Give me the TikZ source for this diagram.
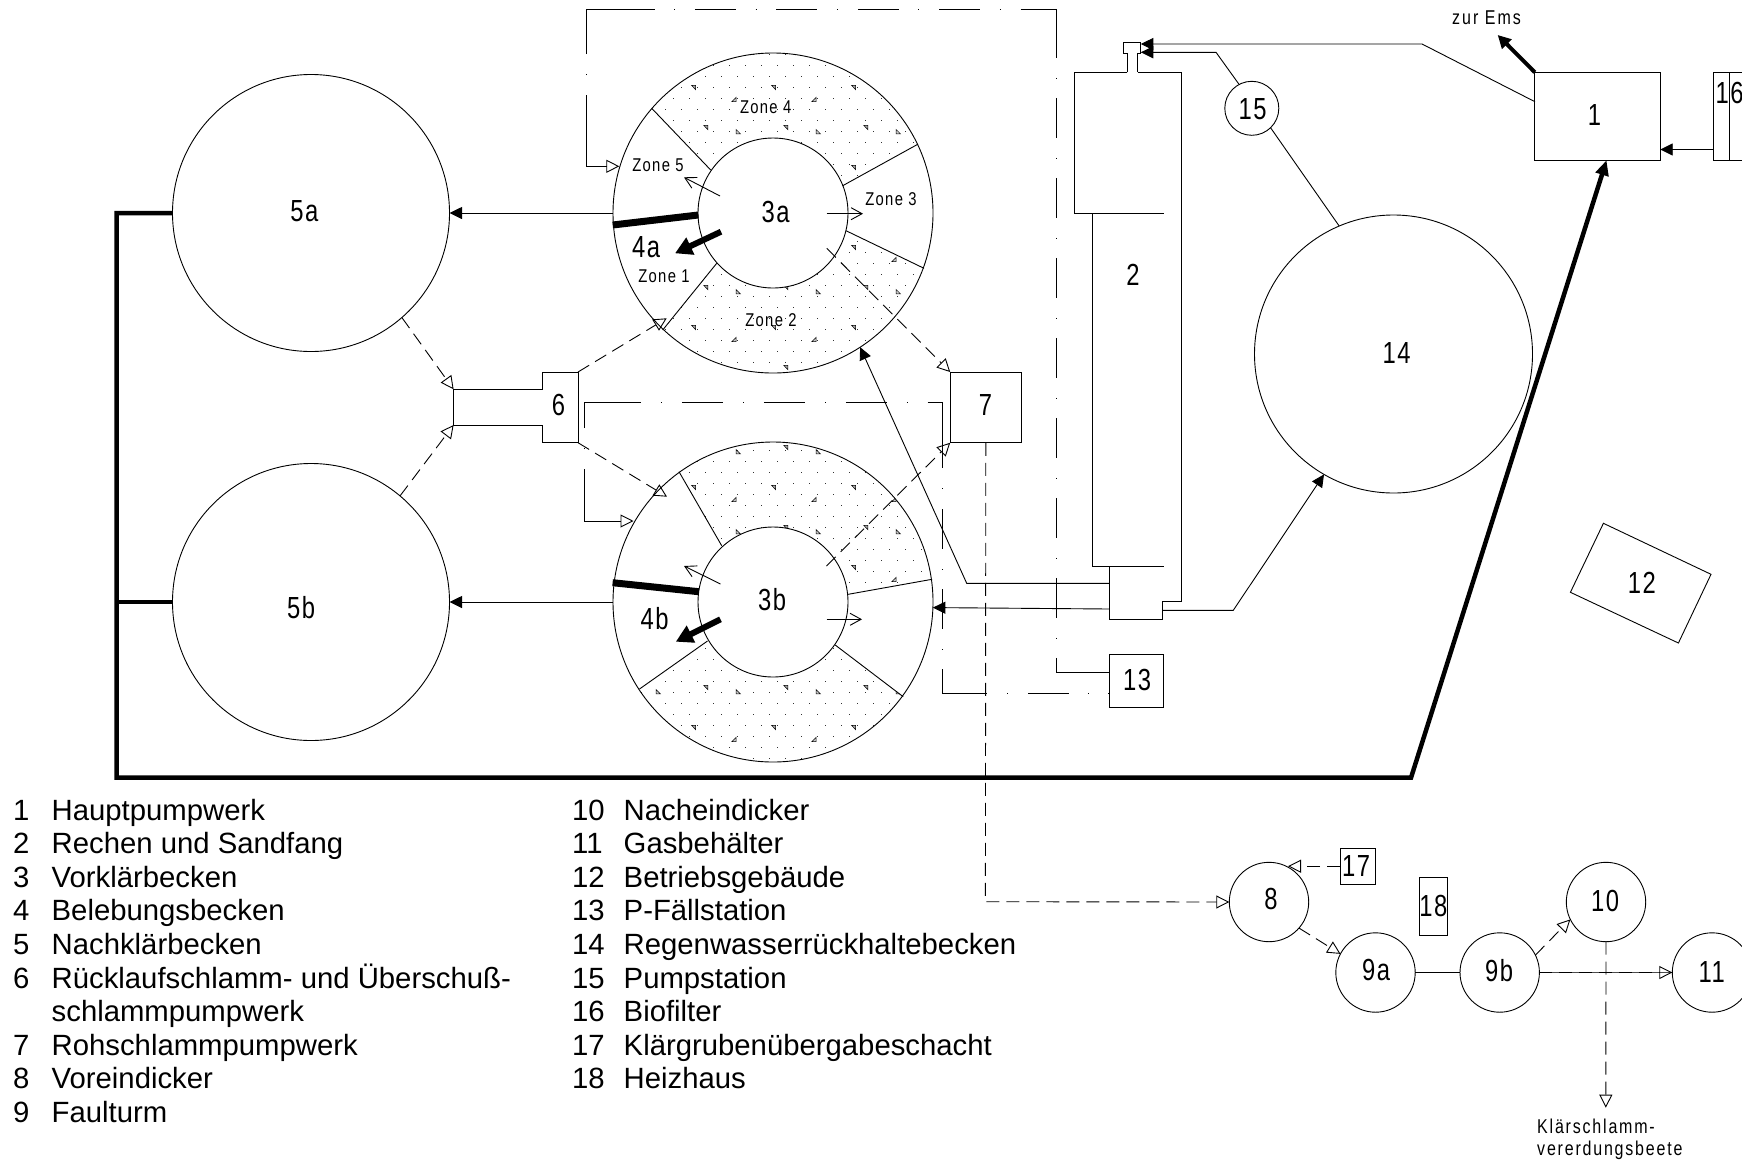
\documentclass[tikz,border=0pt]{standalone}
\usepackage{fontspec}
\setmainfont{Liberation Sans}
\newfontfamily\nar[FakeStretch=0.8,LetterSpace=7]{Liberation Sans}
\newfontfamily\narb[FakeStretch=0.78,LetterSpace=5]{Liberation Sans}
\newfontfamily\narw[FakeStretch=0.8,LetterSpace=10]{Liberation Sans}
\newfontfamily\narx[FakeStretch=0.8,LetterSpace=9]{Liberation Sans}
\usetikzlibrary{arrows.meta,shapes.geometric}
\tikzset{
  ln/.style={line width=.9pt,line join=miter},
  tank/.style={ln,circle,draw,inner sep=0pt,outer sep=0pt,minimum size=#1},
  box/.style={ln,rectangle,draw,inner sep=0pt,outer sep=0pt},
  big/.style={inner sep=0pt,font=\narb\fontsize{30.5}{32}\selectfont},
  zone/.style={inner sep=0pt,font=\nar\fontsize{18.5}{20}\selectfont},
  small/.style={inner sep=0pt,anchor=base west,font=\narw\fontsize{20}{22}\selectfont},
  smaller/.style={inner sep=0pt,anchor=base west,font=\narx\fontsize{20}{22}\selectfont},
  leg/.style={inner sep=0pt,anchor=base west,font=\fontsize{29.3}{33}\selectfont},
  solid arrow/.style={ln,-{Triangle[length=12.5pt,width=12pt]}},
  open arrow/.style={ln,-{Triangle[open,length=13pt,width=13pt]}},
  barb arrow/.style={ln,-{Straight Barb[length=11pt,width=12pt]}},
  dsh/.style={dash pattern=on 13pt off 7pt},
  wall/.style={line width=7pt},
  fat arrow/.style={line width=6pt,-{Triangle[length=17pt,width=18pt]}},
  thick pipe/.style={line width=4.5pt,line join=miter},
}
\newcommand{\tridown}[2]{\draw[line width=.5pt,fill=gray!70] (#1-2,#2-2.2) -- (#1+2.2,#2-2.2) -- (#1+2.2,#2+2.2) -- cycle;}
\newcommand{\triup}[2]{\draw[line width=.5pt,fill=gray!40] (#1-2.2,#2+2.2) -- (#1+2.2,#2+2.2) -- (#1+2.2,#2-2.2) -- cycle;}
\newcommand{\triright}[2]{\draw[line width=.5pt,fill=gray!40] (#1-2.2,#2-2.2) -- (#1-2.2,#2+2.2) -- (#1+2.2,#2+2.2) -- cycle;}
\begin{document}
\begin{tikzpicture}[x=1pt,y=-1pt]
\useasboundingbox (0,0) rectangle (1742,1160);
% stipple in the shaded zones
\begin{scope}
  \clip (773,213) circle[radius=160] (773,602) circle[radius=160];
  \clip (710.7,170) -- (628,83.6) -- (640,30) -- (900,30) -- (992,103) -- (842.7,185.7) -- cycle
        (846,230.7) -- (1000,305) -- (950,420) -- (600,420) -- (609,396) -- (716.7,263.3) -- cycle
        (721.7,545.7) -- (640,404) -- (660,380) -- (1000,380) -- (1010,565) -- (848.2,594.3) -- cycle
        (835.2,645) -- (970,747) -- (950,800) -- (600,800) -- (570,738) -- (707.5,641) -- cycle;
  \foreach \j in {-2,...,64} {
    \foreach \i in {0,...,20} {
      \pgfmathsetmacro{\dx}{600.7+16*\i+8*mod(\j+2,2)}
      \pgfmathsetmacro{\dy}{65+11*\j}
      \fill[black!80] (\dx,\dy) rectangle ++(1,1);
    }
  }
  \foreach \k in {-1,...,17} {
    \foreach \m in {-1,...,3} {
      \pgfmathsetmacro{\tx}{693.5+80*\m+12.2*mod(\k+2,2)}
      \pgfmathsetmacro{\ty}{87.5+40*\k}
      \tridown{\tx}{\ty}
    }
  }
  \foreach \k in {-1,...,8} {
    \foreach \m in {-1,...,3} {
      \pgfmathsetmacro{\ux}{734+80*\m}
      \pgfmathsetmacro{\uy}{99.5+80*\k}
      \triup{\ux}{\uy}
      \pgfmathsetmacro{\rx}{738.3+80*\m}
      \pgfmathsetmacro{\ry}{131.7+80*\k}
      \triright{\rx}{\ry}
    }
  }
\end{scope}
% tanks
\node[tank=277pt] (c5a) at (311,213) {};
\node[tank=277pt] (c5b) at (311,602) {};
\node[tank=320pt] (c3a) at (773,213) {};
\node[tank=320pt] (c3b) at (773,602) {};
\node[tank=150pt,fill=white] (i3a) at (773,213) {};
\node[tank=150pt,fill=white] (i3b) at (773,602) {};
\node[tank=278pt] (c14) at (1393.5,354) {};
\node[tank=54pt] (c15) at (1251.8,108.3) {};
\node[tank=79.4pt] (c8) at (1269,902) {};
\node[tank=79.4pt] (c9a) at (1375.5,972.5) {};
\node[tank=79.4pt] (c9b) at (1499.7,972.5) {};
\node[tank=79.4pt] (c10) at (1606,902) {};
\node[tank=79.4pt] (c11) at (1712,972.5) {};
% boxes
\node[box,minimum width=125.3pt,minimum height=88pt] (b1) at (1597.5,116.3) {};
\node[box,minimum width=71.2pt,minimum height=70.7pt] (b7) at (985.8,407.4) {};
\node[box,minimum width=53.6pt,minimum height=53.4pt] (b13) at (1136.4,681) {};
\node[box,minimum width=35.6pt,minimum height=35.7pt] (b17) at (1357.8,866.2) {};
\node[box,minimum width=28.3pt,minimum height=58pt] (b18) at (1433.6,906.3) {};
\draw[ln] (1742,72.3) -- (1713,72.3) -- (1713,160.3) -- (1742,160.3);
\draw[ln] (1729.6,72.3) -- (1729.6,160.3);
\coordinate (b16w) at (1713,149.5);
\coordinate (b1e) at (1660.2,149.5);
% box 6 with its tube
\coordinate (b6ne) at (578,372);
\coordinate (b6se) at (578,442.7);
\coordinate (tubet) at (453.6,389.3);
\coordinate (tubeb) at (453.6,425);
\draw[ln] (542.6,389.3) -- (542.6,372) -- (b6ne) -- (b6se) -- (542.6,442.7) -- (542.6,425) -- (tubeb) -- (tubet) -- cycle;
% box 12
\draw[ln] (1603.4,523.3) -- (1711,574.3) -- (1678.4,643) -- (1570.4,592.3) -- cycle;
% item 2
\coordinate (in2) at (1140.8,44);
\coordinate (in2b) at (1140.8,52.3);
\coordinate (b2l) at (1109.6,583.3);
\coordinate (b2m) at (1109.6,609);
\coordinate (b2r) at (1162.8,610.3);
\draw[ln] (1127.3,72.3) -- (1127.3,53.3) -- (1123.3,53.3) -- (1123.3,42.7) -- (1140.8,42.7) -- (1140.8,53.3) -- (1137.6,53.3) -- (1137.6,72.3);
\draw[ln] (1127.3,72.3) -- (1074.5,72.3) -- (1074.5,213.3) -- (1164,213.3);
\draw[ln] (1137.6,72.3) -- (1181,72.3) -- (1181,601.7) -- (1162.8,601.7) -- (1162.8,619.3) -- (1109.6,619.3) -- (1109.6,566.3);
\draw[ln] (1092.4,213.3) -- (1092.4,566.3);
\draw[ln] (1092.4,566.3) -- (1164,566.3);
% spokes
\draw[ln] (651.7,108.3) -- (710.7,170);
\draw[ln] (917.7,144.3) -- (842.7,185.7);
\draw[ln] (924,268.3) -- (846,230.7);
\draw[ln] (662.7,330) -- (716.7,263.3);
\draw[ln] (679,471.7) -- (721.7,545.7);
\draw[ln] (932,579.3) -- (848.2,594.3);
\draw[ln] (835.2,645) -- (903.2,696.7);
\draw[ln] (707.5,641) -- (639.5,689);
\draw[wall] (612.7,225) -- (698.3,215);
\draw[wall] (612.6,582.7) -- (698.8,591.7);
% inner arrows
\coordinate (a1) at (720,196); \coordinate (a1e) at (684,177.3);
\coordinate (a2) at (826.7,213.7); \coordinate (a2e) at (863,213.7);
\coordinate (a3) at (721,231.7); \coordinate (a3e) at (675,253.3);
\coordinate (a4) at (720.5,584); \coordinate (a4e) at (684,566);
\coordinate (a5) at (826.5,619.3); \coordinate (a5e) at (862,619.3);
\coordinate (a6) at (720.5,619.3); \coordinate (a6e) at (675.8,641.7);
\draw[barb arrow] (a1) -- (a1e);
\draw[barb arrow] (a2) -- (a2e);
\draw[barb arrow] (a4) -- (a4e);
\draw[barb arrow] (a5) -- (a5e);
\draw[fat arrow] (a3) -- (a3e);
\draw[fat arrow] (a6) -- (a6e);
% solid connectors
\draw[solid arrow] (c3a.180) -- (c5a.0);
\draw[solid arrow] (c3b.180) -- (c5b.0);
\draw[solid arrow] (b2l) -- (966.7,583.3) -- (c3a.-57);
\draw[solid arrow] (b2m) -- (c3b.-2.2);
\draw[solid arrow] (b2r) -- (1233.3,610.3) -- (c14.240);
\draw[ln] (c14.113) -- (c15.-46.8);
\draw[solid arrow] (c15.118) -- (1216,52.3) -- (in2b);
\draw[solid arrow] (1534.9,101.7) -- (1422,44) -- (in2);
\draw[solid arrow] (b16w) -- (b1e);
\draw[ln] (c9a.0) -- (c9b.180);
% thick pipes
\coordinate (emstip) at (1497.7,35);
\draw[line width=4pt,-{Triangle[length=13pt,width=13pt]}] (b1.north west) -- (emstip);
\draw[thick pipe] (c5b.180) -- (116.7,602);
\draw[thick pipe,-{Triangle[length=15pt,width=13pt]}] (c5a.180) -- (116.7,213) -- (116.7,777.7) -- (1411,777.7) -- (1606.5,160.3);
% dashed connectors
\draw[open arrow,dsh] (c5a.-49.5) -- (tubet);
\draw[open arrow,dsh] (c5b.50) -- (tubeb);
\draw[open arrow,dsh] (b6ne) -- (666.7,318.3);
\draw[open arrow,dsh] (b6se) -- (667,496.7);
\draw[open arrow,dsh] (826.7,248.3) -- (b7.north west);
\draw[open arrow,dsh] (826.5,566) -- (b7.south west);
\draw[open arrow,dsh] (b7.south) -- (985.4,901.7) -- (c8.180);
\draw[open arrow,dsh] (b17.west) -- (1288,866.2);
\draw[open arrow,dsh] (c8.-41.5) -- (c9a.152.2);
\draw[open arrow,dsh] (c9b.26.6) -- (c10.206);
\draw[line width=.5pt,black!70] (c9b.0) -- (c11.180);
\draw[open arrow,dsh] (c9b.0) -- (c11.180);
\coordinate (beete) at (1605.8,1107.7);
\draw[open arrow,dsh] (c10.-90) -- (beete);
% dash-dotted connectors
\draw[ln,{Triangle[open,length=13pt,width=13pt]}-,dash pattern=on 91pt off 20pt on 1pt off 20pt on 113pt off 19.7pt on 1pt off 19.7pt on 41pt off 19.7pt on 1pt off 19.7pt on 41pt off 19.7pt on 1pt off 19.7pt on 41pt off 19.7pt on 1pt off 19.7pt on 41pt off 19.7pt on 1pt off 19.7pt on 85pt off 20pt on 1pt off 19pt on 40pt off 20pt on 1pt off 19pt on 40pt off 20pt on 1pt off 19pt on 40pt off 20pt on 1pt off 19pt on 40pt off 20pt on 1pt off 19pt on 40pt off 20pt on 1pt off 19pt on 40pt off 20pt on 1pt off 19pt on 40pt off 20pt on 1pt off 19pt on 200pt]
  (619.3,166.3) -- (586.7,166.3) -- (586.7,9) -- (1056.7,9) -- (1056.7,672.7) -- (b13.west |- 0,672.7);
\draw[ln,{Triangle[open,length=13pt,width=13pt]}-,dash pattern=on 88pt off 20pt on 1pt off 20pt on 82pt off 20pt on 1pt off 20pt on 41.5pt off 19.7pt on 1pt off 19.7pt on 41.5pt off 19.7pt on 1pt off 19.7pt on 41.5pt off 19.7pt on 1pt off 19.7pt on 80pt off 20pt on 1pt off 20pt on 40pt off 20pt on 1pt off 19pt on 40pt off 20pt on 1pt off 19pt on 69pt off 20pt on 1pt off 20pt on 41pt off 19pt on 1pt off 19pt on 60pt]
  (633.5,521) -- (584.5,521) -- (584.5,402.7) -- (942,402.7) -- (942,693.3) -- (b13.west |- 0,693.3);
% numbers in the plan
\node[big] (t1) at (1594.4,115) {1};
\node[big] (t2) at (1133,274.5) {2};
\node[big] (t3a) at (775.7,212) {3a};
\node[big] (t3b) at (772,600) {3b};
\node[big] (t4a) at (646,246.7) {4a};
\node[big] (t4b) at (654.5,618.3) {4b};
\node[big] (t5a) at (304.4,211) {5a};
\node[big] (t5b) at (301,608) {5b};
\node[big] (t6) at (558.4,405) {6};
\node[big] (t7) at (985.4,405) {7};
\node[big] (t8) at (1271,899.3) {8};
\node[big] (t9a) at (1376,970) {9a};
\node[big] (t9b) at (1499,970.7) {9b};
\node[big] (t10) at (1605,900.7) {10};
\node[big] (t11) at (1711.6,972.3) {11};
\node[big] (t12) at (1641.8,583.3) {12};
\node[big] (t13) at (1137,680.3) {13};
\node[big] (t14) at (1396.7,353) {14};
\node[big] (t15) at (1252.5,109) {15};
\node[big] (t16) at (1729.5,93) {16};
\node[big] (t17) at (1356,865.7) {17};
\node[big] (t18) at (1433.3,906) {18};
\node[zone] (z1) at (664,276) {Zone 1};
\node[zone] (z2) at (771,320) {Zone 2};
\node[zone] (z3) at (891,198.7) {Zone 3};
\node[zone] (z4) at (765.7,107.7) {Zone 4};
\node[zone] (z5) at (658,165.7) {Zone 5};
\node[small,anchor=base] (ems) at (1486.5,24) {zur Ems};
\node[smaller] (k1) at (1537,1133.3) {Klärschlamm-};
\node[smaller] (k2) at (1537,1155) {vererdungsbeete};
% legend
\node[leg] (n1) at (13,820) {1};      \node[leg] (l1) at (51.5,820) {Hauptpumpwerk};
\node[leg] (n2) at (13,853.6) {2};    \node[leg] (l2) at (51.5,853.6) {Rechen und Sandfang};
\node[leg] (n3) at (13,887.2) {3};    \node[leg] (l3) at (51.5,887.2) {Vorklärbecken};
\node[leg] (n4) at (13,920.8) {4};    \node[leg] (l4) at (51.5,920.8) {Belebungsbecken};
\node[leg] (n5) at (13,954.4) {5};    \node[leg] (l5) at (51.5,954.4) {Nachklärbecken};
\node[leg] (n6) at (13,988) {6};      \node[leg] (l6) at (51.5,988) {Rücklaufschlamm- und Überschuß-};
                                      \node[leg] (l6b) at (51.5,1021.6) {schlammpumpwerk};
\node[leg] (n7) at (13,1055.2) {7};   \node[leg] (l7) at (51.5,1055.2) {Rohschlammpumpwerk};
\node[leg] (n8) at (13,1088.8) {8};   \node[leg] (l8) at (51.5,1088.8) {Voreindicker};
\node[leg] (n9) at (13,1122.4) {9};   \node[leg] (l9) at (51.5,1122.4) {Faulturm};
\node[leg] (n10) at (572,820) {10};   \node[leg] (l10) at (623.5,820) {Nacheindicker};
\node[leg] (n11) at (572,853.6) {11}; \node[leg] (l11) at (623.5,853.6) {Gasbehälter};
\node[leg] (n12) at (572,887.2) {12}; \node[leg] (l12) at (623.5,887.2) {Betriebsgebäude};
\node[leg] (n13) at (572,920.8) {13}; \node[leg] (l13) at (623.5,920.8) {P-Fällstation};
\node[leg] (n14) at (572,954.4) {14}; \node[leg] (l14) at (623.5,954.4) {Regenwasserrückhaltebecken};
\node[leg] (n15) at (572,988) {15};   \node[leg] (l15) at (623.5,988) {Pumpstation};
\node[leg] (n16) at (572,1021.6) {16};\node[leg] (l16) at (623.5,1021.6) {Biofilter};
\node[leg] (n17) at (572,1055.2) {17};\node[leg] (l17) at (623.5,1055.2) {Klärgrubenübergabeschacht};
\node[leg] (n18) at (572,1088.8) {18};\node[leg] (l18) at (623.5,1088.8) {Heizhaus};
\end{tikzpicture}
\end{document}
